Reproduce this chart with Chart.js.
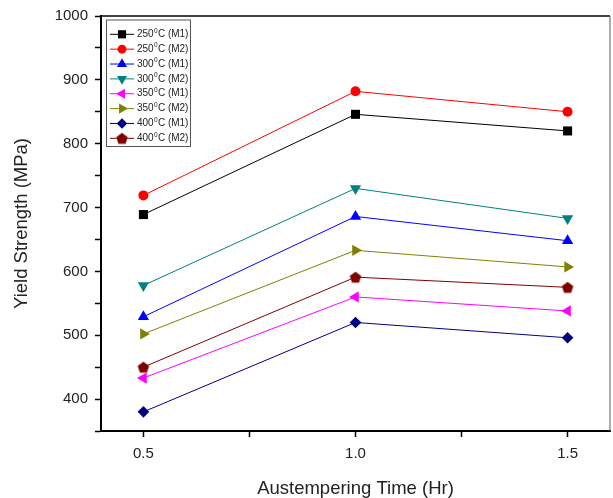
<!DOCTYPE html>
<html>
<head>
<meta charset="utf-8">
<script src="https://cdn.jsdelivr.net/npm/chart.js@4/dist/chart.umd.min.js"></script>
<style>
    html, body { margin: 0; padding: 0; background: #fff; }
    #wrap { width: 613px; height: 498px; }
</style>
</head>
<body>
<div id="wrap"><canvas id="chart" width="613" height="498"></canvas></div>
<script>
// austempering time (hr) and yield strength (MPa) per temperature / method
const hours = [0.5, 1.0, 1.5];
const s250M1 = [689, 846, 820];
const s250M2 = [719, 882, 850];
const s300M1 = [529, 686, 648];
const s300M2 = [578, 730, 683];
const s350M1 = [433, 560, 538];
const s350M2 = [502, 633, 607];
const s400M1 = [380, 520, 496];
const s400M2 = [450, 591, 575];

const temps = ['250', '250', '300', '300', '350', '350', '400', '400'];
const methods = ['M1', 'M2', 'M1', 'M2', 'M1', 'M2', 'M1', 'M2'];
const xTicks = [0.5, 0.75, 1.0, 1.25, 1.5];
const xLabels = ['0.5', '', '1.0', '', '1.5'];

// pentagon marker, no built-in style for it
function pentagon(color, r) {
    const c = document.createElement('canvas');
    const s = Math.ceil(r * 2 + 2);
    c.width = s; c.height = s;
    const g = c.getContext('2d');
    g.beginPath();
    for (let i = 0; i < 5; i++) {
        const a = -Math.PI / 2 + i * 2 * Math.PI / 5;
        const px = s / 2 + r * Math.cos(a);
        const py = s / 2 + r * Math.sin(a) + 0.6;
        i === 0 ? g.moveTo(px, py) : g.lineTo(px, py);
    }
    g.closePath();
    g.fillStyle = color;
    g.fill();
    return c;
}

function series(values, color, style, radius, rotation) {
    return {
        data: values.map((v, i) => ({ x: hours[i], y: v })),
        borderColor: color,
        backgroundColor: color,
        borderWidth: 1,
        pointStyle: style,
        pointRadius: radius,
        pointRotation: rotation || 0,
        pointBorderWidth: 0,
        pointBackgroundColor: color,
        pointBorderColor: color
    };
}

const datasets = [
    series(s250M1, '#000000', 'rect', 6.4),
    series(s250M2, '#ff0000', 'circle', 5),
    series(s300M1, '#0000ff', 'triangle', 6.5),
    series(s300M2, '#008080', 'triangle', 6.5, 180),
    series(s350M1, '#ff00ff', 'triangle', 6.5, 270),
    series(s350M2, '#808000', 'triangle', 6.5, 90),
    series(s400M1, '#000080', 'rectRot', 5.8),
    series(s400M2, '#800000', pentagon('#800000', 6), 6)
];
datasets.forEach((d, i) => d.label = temps[i] + '\u2070C (' + methods[i] + ')');

const framePlugin = {
    id: 'frame',
    afterDraw(chart) {
        const { ctx, chartArea: a } = chart;
        ctx.save();
        ctx.strokeStyle = '#000';
        ctx.lineWidth = 1.5;
        ctx.beginPath();
        ctx.moveTo(a.left, a.top);
        ctx.lineTo(a.right, a.top);
        ctx.stroke();
        ctx.strokeStyle = '#777';
        ctx.lineWidth = 1.2;
        ctx.beginPath();
        ctx.moveTo(a.right, a.top);
        ctx.lineTo(a.right, a.bottom);
        ctx.stroke();
        ctx.restore();
    }
};

// line + marker legend box in the upper left of the plot
const legendPlugin = {
    id: 'boxLegend',
    afterDraw(chart) {
        const { ctx } = chart;
        const bx = 106, by = 19.5, bw = 84, bh = 126.5;
        ctx.save();
        ctx.fillStyle = '#fff';
        ctx.fillRect(bx, by, bw, bh);
        ctx.strokeStyle = '#555';
        ctx.lineWidth = 1;
        ctx.strokeRect(bx + 0.5, by + 0.5, bw, bh);
        chart.data.datasets.forEach((d, i) => {
            const y = 34.3 + i * 14.86;
            ctx.strokeStyle = d.borderColor;
            ctx.lineWidth = 1;
            ctx.beginPath();
            ctx.moveTo(110, y);
            ctx.lineTo(134, y);
            ctx.stroke();
            ctx.fillStyle = d.backgroundColor;
            Chart.helpers.drawPoint(ctx, {
                pointStyle: d.pointStyle,
                radius: d.pointRadius * 0.9,
                rotation: d.pointRotation,
                borderWidth: 0
            }, 122, y);
            ctx.fillStyle = '#222';
            ctx.textBaseline = 'middle';
            let x = 137;
            ctx.font = '10px "Liberation Sans", Arial, sans-serif';
            ctx.fillText(temps[i], x, y);
            x += ctx.measureText(temps[i]).width + 0.3;
            ctx.font = '6.5px "Liberation Sans", Arial, sans-serif';
            ctx.fillText('0', x, y - 3.5);
            x += ctx.measureText('0').width + 0.3;
            ctx.font = '10px "Liberation Sans", Arial, sans-serif';
            ctx.fillText('C (' + methods[i] + ')', x, y);
        });
        ctx.restore();
    }
};

const ctx = document.getElementById('chart').getContext('2d');
const myChart = new Chart(ctx, {
    type: 'line',
    data: { datasets: datasets },
    options: {
        responsive: false,
        animation: false,
        devicePixelRatio: 1,
        layout: { autoPadding: false, padding: { top: 15, right: 3, left: 0, bottom: 0 } },
        plugins: {
            legend: { display: false },
            tooltip: { enabled: false }
        },
        scales: {
            x: {
                type: 'linear',
                min: 0.4,
                max: 1.6,
                afterBuildTicks: scale => { scale.ticks = xTicks.map(v => ({ value: v })); },
                afterFit: scale => { scale.height = 67; },
                ticks: {
                    autoSkip: false,
                    maxRotation: 0,
                    padding: 8,
                    color: '#222',
                    font: { family: '"Liberation Sans", Arial, sans-serif', size: 15 },
                    callback: (value, index) => xLabels[index]
                },
                grid: {
                    drawOnChartArea: false,
                    drawTicks: true,
                    tickLength: 6,
                    tickWidth: 1.5,
                    tickColor: '#000'
                },
                border: { color: '#000', width: 2 },
                title: {
                    display: true,
                    text: 'Austempering Time (Hr)',
                    color: '#222',
                    font: { family: '"Liberation Sans", Arial, sans-serif', size: 18.5, lineHeight: 1 },
                    padding: { top: 0, bottom: 0 }
                }
            },
            y: {
                min: 350,
                max: 1000,
                afterFit: scale => { scale.width = 101; },
                ticks: {
                    stepSize: 50,
                    autoSkip: false,
                    padding: 7,
                    color: '#222',
                    font: { family: '"Liberation Sans", Arial, sans-serif', size: 15 },
                    callback: value => value % 100 === 0 ? value : ''
                },
                grid: {
                    drawOnChartArea: false,
                    drawTicks: true,
                    tickLength: 6,
                    tickWidth: 1.5,
                    tickColor: '#000'
                },
                border: { color: '#000', width: 2 },
                title: {
                    display: true,
                    text: 'Yield Strength (MPa)',
                    color: '#222',
                    font: { family: '"Liberation Sans", Arial, sans-serif', size: 18.5, lineHeight: 1 },
                    padding: { top: 13, bottom: 0 }
                }
            }
        }
    },
    plugins: [framePlugin, legendPlugin]
});
</script>
</body>
</html>
